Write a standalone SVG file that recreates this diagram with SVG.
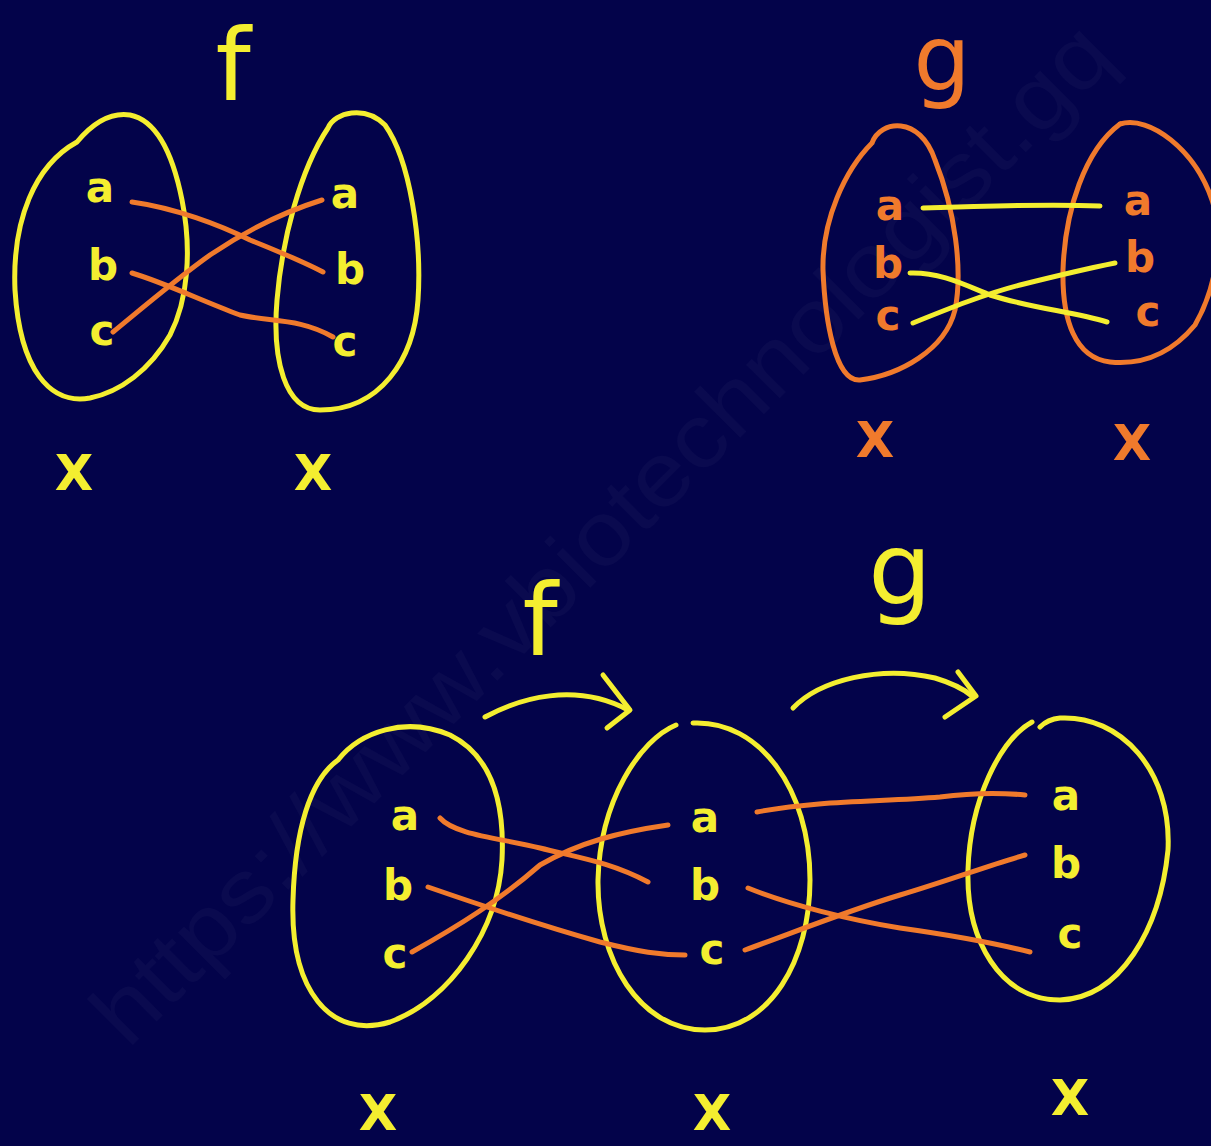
<svg xmlns="http://www.w3.org/2000/svg" width="1211" height="1146" viewBox="0 0 1211 1146">
<style>
.y{fill:none;stroke:#f4ee30;stroke-width:5;stroke-linecap:round;stroke-linejoin:round}
.o{fill:none;stroke:#f07a2c;stroke-width:5;stroke-linecap:round;stroke-linejoin:round}
.ty{fill:#f4ee30;font-family:"DejaVu Sans",sans-serif;text-anchor:middle}
.to{fill:#f07a2c;font-family:"DejaVu Sans",sans-serif;text-anchor:middle}
.el{font-size:42px;font-weight:bold}
.xl{font-size:50px;font-weight:bold}
.fn{font-size:100px}
.gn{font-size:90px}
.wm{fill:#ffffff;fill-opacity:0.03;font-family:"Liberation Sans",sans-serif;font-size:90px}
</style>
<rect width="1211" height="1146" fill="#03034a"/>
<text class="wm" x="0" y="0" transform="translate(128,1050) rotate(-45)" textLength="1400" lengthAdjust="spacingAndGlyphs">https://www.vbiotechnologist.gq</text>

<!-- Top-left: f -->
<g id="f-top-label"><text class="ty fn" x="233" y="100">f</text></g>
<g id="f-top-domain">
<path class="y" d="M 77,142 C 92,124 110,112 130,115 C 155,120 172,150 182,200 C 192,250 188,300 170,335 C 150,370 120,392 90,398 C 50,405 20,370 15,290 C 12,220 35,165 77,142"/>
<text class="ty el" x="100" y="202">a</text>
<text class="ty el" x="103" y="280">b</text>
<text class="ty el" x="102" y="345">c</text>
<text class="ty xl" x="74" y="490">X</text>
</g>
<g id="f-top-codomain">
<path class="y" d="M 328,128 C 335,112 365,105 385,125 C 410,160 422,240 418,300 C 414,360 380,410 320,410 C 285,410 272,360 277,300 C 282,240 300,170 328,128"/>
<text class="ty el" x="345" y="208">a</text>
<text class="ty el" x="350" y="284">b</text>
<text class="ty el" x="345" y="356">c</text>
<text class="ty xl" x="313" y="490">X</text>
</g>

<!-- Top-right: g -->
<g id="g-top-label"><text class="to gn" x="942" y="90">g</text></g>
<g id="g-top-domain">
<path class="o" d="M 872,143 C 880,120 920,115 935,160 C 955,210 963,270 955,310 C 945,350 900,375 860,380 C 835,382 825,320 823,270 C 822,220 845,170 872,143"/>
<text class="to el" x="890" y="220">a</text>
<text class="to el" x="888" y="278">b</text>
<text class="to el" x="888" y="330">c</text>
<text class="to xl" x="875" y="457">X</text>
</g>
<g id="g-top-codomain">
<path class="o" d="M 1120,124 C 1150,115 1195,150 1212,200 C 1225,240 1215,290 1195,325 C 1170,355 1140,365 1110,362 C 1075,358 1062,320 1063,270 C 1065,210 1085,150 1120,124"/>
<text class="to el" x="1138" y="215">a</text>
<text class="to el" x="1140" y="272">b</text>
<text class="to el" x="1148" y="326">c</text>
<text class="to xl" x="1132" y="460">X</text>
</g>

<!-- Bottom composition -->
<g id="f-bottom-label"><text class="ty fn" x="540" y="655">f</text></g>
<g id="g-bottom-label"><text class="ty fn" x="900" y="604">g</text></g>
<g id="bottom-left-set">
<path class="y" d="M 338,760 C 360,732 405,716 450,735 C 490,755 505,800 502,860 C 498,930 450,1000 390,1022 C 330,1040 290,990 293,900 C 295,830 310,780 338,760"/>
<text class="ty el" x="405" y="830">a</text>
<text class="ty el" x="398" y="900">b</text>
<text class="ty el" x="395" y="968">c</text>
<text class="ty xl" x="378" y="1130">X</text>
</g>
<g id="bottom-middle-set">
<path class="y" d="M 676,725 C 640,740 600,800 598,880 C 597,960 640,1030 705,1030 C 770,1030 810,960 810,880 C 810,790 760,720 693,723"/>
<text class="ty el" x="705" y="832">a</text>
<text class="ty el" x="705" y="900">b</text>
<text class="ty el" x="712" y="964">c</text>
<text class="ty xl" x="712" y="1130">X</text>
</g>
<g id="bottom-right-set">
<path class="y" d="M 1032,722 C 1000,740 970,800 968,870 C 966,940 1000,1000 1060,1000 C 1120,998 1160,930 1168,850 C 1172,770 1120,715 1060,718 C 1050,719 1045,722 1040,727"/>
<text class="ty el" x="1066" y="810">a</text>
<text class="ty el" x="1066" y="878">b</text>
<text class="ty el" x="1070" y="948">c</text>
<text class="ty xl" x="1070" y="1115">X</text>
</g>

<g id="connectors">
<!-- top f mapping -->
<path class="o" d="M 132,202 C 175,208 220,225 250,240 C 280,252 300,260 323,272"/>
<path class="o" d="M 113,332 C 140,310 175,280 210,255 C 250,228 290,210 322,200"/>
<path class="o" d="M 132,273 C 165,283 200,300 240,315 C 270,322 300,318 333,337"/>
<!-- top g mapping -->
<path class="y" d="M 923,208 C 980,206 1050,204 1100,206"/>
<path class="y" d="M 910,273 C 940,272 965,285 990,295 C 1030,308 1075,312 1107,322"/>
<path class="y" d="M 913,323 C 950,308 985,294 1020,285 C 1060,275 1090,268 1115,263"/>
<!-- bottom f mapping -->
<path class="o" d="M 440,818 C 455,835 500,838 540,848 C 580,858 610,862 648,882"/>
<path class="o" d="M 412,952 C 460,925 500,900 540,865 C 580,842 620,832 668,825"/>
<path class="o" d="M 428,887 C 480,905 540,925 600,942 C 640,952 660,955 685,955"/>
<!-- bottom g mapping -->
<path class="o" d="M 757,812 C 820,800 880,802 940,797 C 970,793 995,792 1025,795"/>
<path class="o" d="M 748,888 C 790,905 850,920 900,928 C 950,935 990,942 1030,952"/>
<path class="o" d="M 745,950 C 800,930 850,910 900,895 C 950,880 990,865 1025,855"/>
<!-- arrows -->
<path class="y" d="M 485,717 C 520,698 575,682 628,710"/>
<path class="y" d="M 603,675 L 630,710 L 607,728"/>
<path class="y" d="M 793,708 C 820,680 880,665 935,678 C 955,684 965,690 972,696"/>
<path class="y" d="M 958,672 L 976,696 L 945,717"/>
</g>
</svg>
